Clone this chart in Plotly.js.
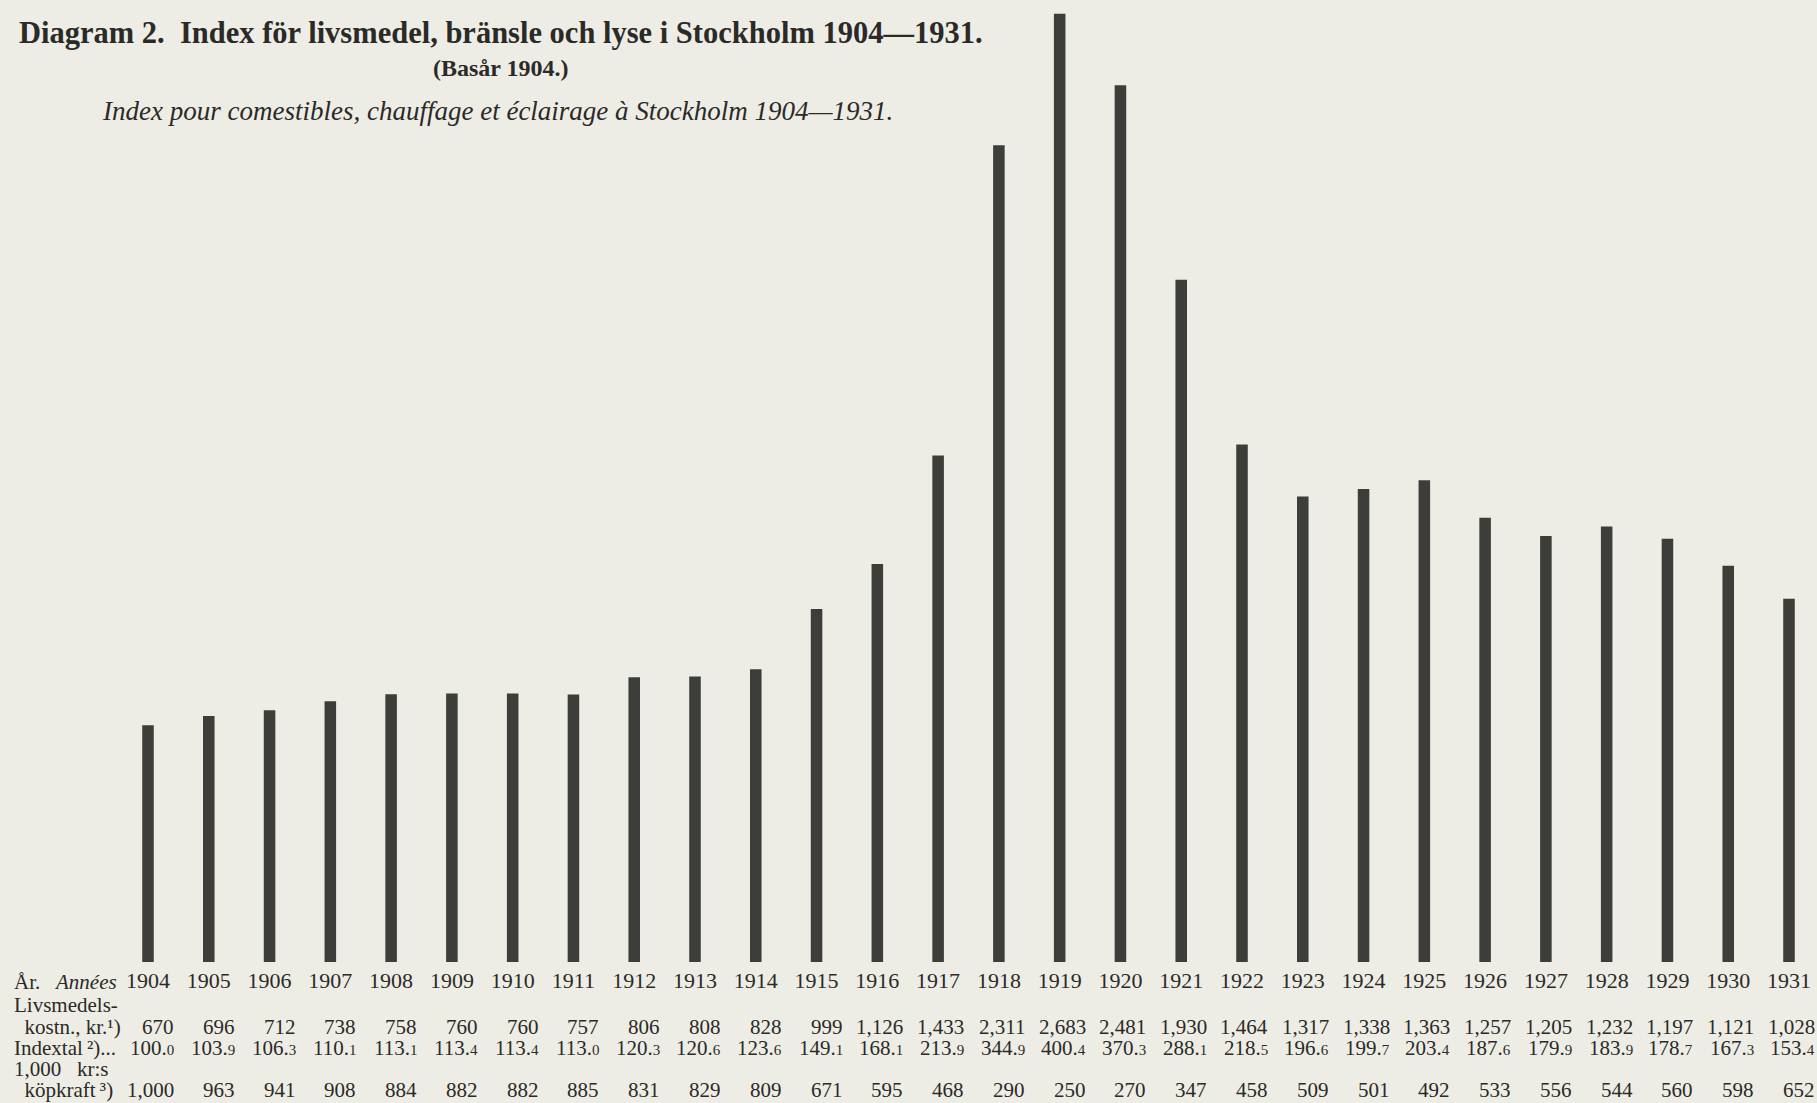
<!DOCTYPE html>
<html>
<head>
<meta charset="utf-8">
<script src="https://cdn.plot.ly/plotly-3.0.1.min.js"></script>
<style>html,body{margin:0;padding:0;background:#eeede5;}#chart{width:1817px;height:1103px;}</style>
</head>
<body>
<div id="chart"></div>
<script>
// ---- data ----
const years = [1904,1905,1906,1907,1908,1909,1910,1911,1912,1913,1914,1915,1916,1917,1918,1919,1920,1921,1922,1923,1924,1925,1926,1927,1928,1929,1930,1931];
const livsmedelKostnad = [670,696,712,738,758,760,760,757,806,808,828,999,1126,1433,2311,2683,2481,1930,1464,1317,1338,1363,1257,1205,1232,1197,1121,1028];
const indextal = [100.0,103.9,106.3,110.1,113.1,113.4,113.4,113.0,120.3,120.6,123.6,149.1,168.1,213.9,344.9,400.4,370.3,288.1,218.5,196.6,199.7,203.4,187.6,179.9,183.9,178.7,167.3,153.4];
const kopkraft = [1000,963,941,908,884,882,882,885,831,829,809,671,595,468,290,250,270,347,458,509,501,492,533,556,544,560,598,652];

const titleMain = 'Diagram 2.\u00a0\u00a0Index för livsmedel, bränsle och lyse i Stockholm 1904—1931.';
const titleBase = '(Basår 1904.)';
const titleFr = 'Index pour comestibles, chauffage et éclairage à Stockholm 1904—1931.';
const rowLabels = [
  'År.\u00a0\u00a0\u00a0<i>Années</i>',
  'Livsmedels-',
  '\u00a0\u00a0kostn., kr.¹)',
  'Indextal\u2009²)...',
  '1,000\u00a0\u00a0\u00a0kr:s',
  '\u00a0\u00a0köpkraft\u2009³)'
];

// ---- styling ----
const W = 1817, H = 1103;
const serif = 'Liberation Serif, DejaVu Serif, serif';
const ink = '#2a2a28';
const barColor = '#3d3d3a';
const plotBottom = 962;          // px of value 0
const pxPerUnit = 2.368;
const pxPerYear = (1789 - 148) / 27;
const firstBarPx = 148;

const fmt = n => n.toLocaleString('en-US');
const fmtIdx = v => { const s = v.toFixed(1); return s.slice(0, -1) + '<span style="font-size:15px">' + s.slice(-1) + '</span>'; };

const rowY = [982, 1005, 1027, 1048, 1069, 1090];
const annotations = [];
rowLabels.forEach((lab, i) => {
  annotations.push({xref:'paper', yref:'y', x: 12 / W, y: 0, yshift: plotBottom - rowY[i],
    xanchor:'left', yanchor:'middle', showarrow:false, text: lab,
    font:{family: serif, size: 21, color: ink}});
});

function valueRow(vals, fmtFn, rowIdx) {
  vals.forEach((v, k) => {
    annotations.push({xref:'x', yref:'y', x: years[k], y: 0, xshift: 28, yshift: plotBottom - rowY[rowIdx],
      xanchor:'right', yanchor:'middle', showarrow:false, text: fmtFn(v),
      font:{family: serif, size: 21, color: ink}});
  });
}
valueRow(livsmedelKostnad, fmt, 2);
valueRow(indextal, fmtIdx, 3);
valueRow(kopkraft, fmt, 5);

annotations.push({xref:'paper', yref:'y', x: 501 / W, y: 0, yshift: plotBottom - 68,
  xanchor:'center', yanchor:'middle', showarrow:false, text:'<b>' + titleBase + '</b>',
  font:{family: serif, size: 24, color: ink}});
annotations.push({xref:'paper', yref:'y', x: 100 / W, y: 0, yshift: plotBottom - 111,
  xanchor:'left', yanchor:'middle', showarrow:false, text:'<i>' + titleFr + '</i>',
  font:{family: serif, size: 27, color: ink}});

const trace = {
  type: 'bar',
  x: years,
  y: indextal,
  width: 0.19,
  marker: {color: barColor, line: {width: 0}},
  hoverinfo: 'x+y'
};

const layout = {
  width: W, height: H,
  margin: {l: 0, r: 0, t: 0, b: H - plotBottom, pad: 0},
  paper_bgcolor: '#eeede5',
  plot_bgcolor: 'rgba(0,0,0,0)',
  showlegend: false,
  title: {text: '<b>' + titleMain + '</b>', x: 19 / W, xanchor: 'left', y: 1 - 32 / H, yanchor: 'middle',
    font: {family: serif, size: 30.5, color: ink}},
  xaxis: {
    range: [years[0] - firstBarPx / pxPerYear, years[0] + (W - firstBarPx) / pxPerYear],
    tickmode: 'array', tickvals: years, ticktext: years.map(String),
    showgrid: false, zeroline: false, showline: false, ticks: '',
    tickfont: {family: serif, size: 22, color: ink}, ticklabelstandoff: 3
  },
  yaxis: {
    range: [0, plotBottom / pxPerUnit],
    showgrid: false, zeroline: false, showline: false, showticklabels: false, ticks: ''
  },
  annotations: annotations
};

Plotly.newPlot('chart', [trace], layout, {displayModeBar: false, staticPlot: true});
</script>
</body>
</html>
